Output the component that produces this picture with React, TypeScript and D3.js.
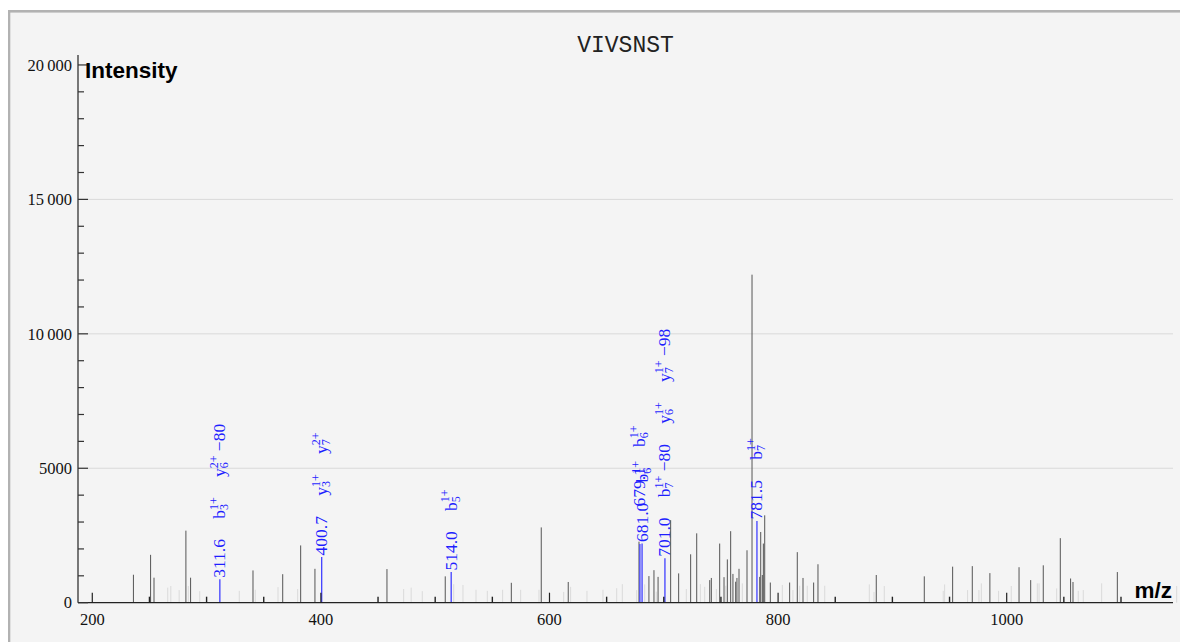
import React, { useEffect, useRef } from "react";
import * as d3 from "d3";

const W = 1172;
const H = 634;
const TITLE = "VIVSNST";
const X_LABEL = "m/z";
const Y_LABEL = "Intensity";
const X_DOMAIN: [number, number] = [187.5, 1145.5];
const Y_MAX = 20370;

const xMajorTicks = [200, 400, 600, 800, 1000];
const xMinorTicks = d3.range(250, 1101, 50).filter((v) => v % 200 !== 0);
const yMajorTicks = [0, 5000, 10000, 15000, 20000];
const yMinorTicks = d3.range(1000, 20000, 1000).filter((v) => v % 5000 !== 0);
const yGridTicks = [5000, 10000, 15000];

// unannotated peaks (grey)
const peakMz = [
  236, 251, 254, 281.9, 286, 340.6, 366.6, 382.3, 394.8, 457.8, 508.8, 566.6, 592.8, 616.4,
  678.3, 687, 691.4, 695, 706, 713, 723.5, 728.8, 740.2, 741.6, 748.9, 752.7, 755.6, 758.5,
  760.5, 762.9, 764, 765.8, 772.8, 777.2, 783.9, 784.8, 786.2, 787.1, 788.3, 793.2, 810.1,
  816.8, 821.8, 831.1, 834.9, 885.9, 927.9, 952.7, 969.9, 985.3, 1010.8, 1021, 1032, 1046.9,
  1055.9, 1058, 1096.8,
];
const peakInt = [
  1040, 1780, 930, 2680, 930, 1200, 1060, 2130, 1260, 1250, 980, 740, 2800, 770,
  2270, 990, 1210, 960, 3070, 1090, 1800, 2580, 840, 920, 2200, 950, 1610, 2660,
  1070, 780, 920, 1260, 1950, 12200, 960, 2630, 1030, 2200, 3250, 750, 750,
  1880, 920, 750, 1430, 1030, 980, 1340, 1360, 1100, 1320, 840, 1390, 2400,
  900, 770, 1140,
];

// faint peaks (light grey)
const faintMz = [
  266, 268.7, 276, 284, 294, 328.6, 342.6, 362.5, 379.7, 472.4, 479, 488.7, 516.2, 524.3,
  535.7, 545.6, 559, 574.8, 590.8, 612.4, 618.5, 632.8, 646.8, 658.8, 663.7, 676.3, 683.3,
  693.4, 719.7, 732, 735.8, 746, 754.2, 768.7, 803.7, 813, 818.9, 825.5, 840.8, 879.8, 883.9,
  892.9, 944.5, 945.7, 965.8, 975.7, 977.8, 992.9, 1004, 1026.8, 1028.3, 1043.7, 1062.6,
  1067, 1083.1, 1148.7,
];
const faintInt = [
  560, 620, 470, 620, 430, 440, 480, 580, 510, 510, 560, 430, 690, 660,
  480, 440, 480, 480, 480, 400, 590, 440, 480, 540, 690, 470, 680,
  410, 510, 690, 590, 510, 630, 720, 660, 470, 630, 630, 630, 680, 400,
  620, 440, 680, 470, 470, 720, 440, 620, 720, 720, 530, 440,
  470, 720, 620,
];

// annotated peaks (blue)
const annMz = [311.6, 400.7, 514.0, 679.1, 681.0, 701.0, 781.5];
const annInt = [870, 1700, 1140, 2180, 2200, 1650, 3040];
// ion labels: [ion, subscript, superscript, suffix]
const annIons: string[][][] = [
  [["b", "3", "1+", ""], ["y", "6", "2+", " \u221280"]],
  [["y", "3", "1+", ""], ["y", "7", "2+", ""]],
  [["b", "5", "1+", ""]],
  [["b", "6", "1+", ""]],
  [["b", "6", "1+", ""]],
  [["b", "7", "1+", " \u221280"], ["y", "6", "1+", ""], ["y", "7", "1+", " \u221298"]],
  [["b", "7", "1+", ""]],
];

const fmtY = (v: number) =>
  v >= 10000 ? d3.format(",")(v).replace(/,/g, "\u2009") : String(v);

const x = d3.scaleLinear().domain(X_DOMAIN).range([70, 1165]);
const y = d3.scaleLinear().domain([0, Y_MAX]).range([594.7, 47]);

const SERIF = "'Liberation Serif', 'Times New Roman', serif";
const SANS = "'Liberation Sans', Arial, sans-serif";
const LABEL_FS = 17.5;
const SMALL_FS = 12;
const BLUE = "#1f1fff";

export default function App() {
  const gRef = useRef<SVGGElement>(null);

  useEffect(() => {
    const g = d3.select(gRef.current);
    g.selectAll("*").remove();
    const order = d3.range(annMz.length).sort((a, b) => annMz[b] - annMz[a]);
    const placed: { px: number; numEnd: number }[] = [];
    order.forEach((i) => {
      const px = x(annMz[i]);
      let cur = y(annInt[i]) - 1.5;
      const near = placed.find((p) => Math.abs(p.px - px) < 8);
      if (near) cur = Math.min(cur, near.numEnd + 4);
      const items: string[][] = [[annMz[i].toFixed(1), "", "", ""], ...annIons[i]];
      let numEnd = cur;
      items.forEach((it, k) => {
        const t = g
          .append("text")
          .attr("transform", `translate(${px + 5.5},${cur}) rotate(-90)`)
          .attr("font-family", SERIF)
          .attr("font-size", LABEL_FS)
          .attr("fill", BLUE);
        t.append("tspan").text(it[0]);
        if (it[1]) {
          const sub = t.append("tspan").attr("font-size", SMALL_FS).attr("dy", 3).text(it[1]);
          const subW = (sub.node() as SVGTSpanElement).getComputedTextLength();
          t.append("tspan")
            .attr("font-size", SMALL_FS)
            .attr("dx", -subW)
            .attr("dy", -10.5)
            .text(it[2]);
          if (it[3]) t.append("tspan").attr("dy", 7.5).text(it[3]);
        }
        const bb = (t.node() as SVGTextElement).getBBox();
        cur -= bb.x + bb.width;
        if (k === 0) numEnd = cur;
        cur -= 20;
      });
      placed.push({ px, numEnd });
    });
  }, []);

  const x0 = x.range()[0];
  const x1 = x.range()[1];
  const yBase = y(0);

  return (
    <svg
      width={W}
      height={H}
      style={{ display: "block", position: "fixed", left: 8, top: 8, overflow: "hidden" }}
    >
      <rect x={1} y={3.3} width={W + 100} height={H + 100} fill="#f4f4f4" stroke="#b2b2b2" strokeWidth={2.6} />
      <text x={(x0 + x1) / 2} y={44} textAnchor="middle" fontFamily="'Liberation Mono', 'Courier New', monospace" fontSize={23} fill="#222">
        {TITLE}
      </text>
      {yGridTicks.map((v) => (
        <line key={"g" + v} x1={x0} x2={x1} y1={y(v)} y2={y(v)} stroke="#d9d9d9" strokeWidth={1} />
      ))}
      {/* faint peaks */}
      {faintMz.map((m, i) => (
        <line key={"f" + i} x1={x(m)} x2={x(m)} y1={yBase} y2={y(faintInt[i])} stroke="#dadada" strokeWidth={1} />
      ))}
      {/* grey peaks */}
      {peakMz.map((m, i) => (
        <line key={"p" + i} x1={x(m)} x2={x(m)} y1={yBase} y2={y(peakInt[i])} stroke="#555" strokeWidth={1} />
      ))}
      {/* annotated peaks */}
      {annMz.map((m, i) => (
        <line key={"a" + i} x1={x(m)} x2={x(m)} y1={yBase} y2={y(annInt[i])} stroke="#4040ff" strokeWidth={1.3} />
      ))}
      {/* axes */}
      <line x1={x0} x2={x0} y1={yBase} y2={y(Y_MAX)} stroke="#222" strokeWidth={1.2} />
      <line x1={x0} x2={x1} y1={yBase} y2={yBase} stroke="#222" strokeWidth={1.2} />
      {yMajorTicks.map((v) => (
        <g key={"ym" + v}>
          <line x1={x0} x2={x0 + 10} y1={y(v)} y2={y(v)} stroke="#333" strokeWidth={1.2} />
          <text x={x0 - 6} y={y(v)} dy="0.35em" textAnchor="end" fontFamily={SERIF} fontSize={16.5} fill="#111">
            {fmtY(v)}
          </text>
        </g>
      ))}
      {yMinorTicks.map((v) => (
        <line key={"yn" + v} x1={x0} x2={x0 + 6} y1={y(v)} y2={y(v)} stroke="#333" strokeWidth={1.2} />
      ))}
      {xMajorTicks.map((v) => (
        <g key={"xm" + v}>
          <line x1={x(v)} x2={x(v)} y1={yBase} y2={yBase - 10} stroke="#222" strokeWidth={1.2} />
          <text x={x(v)} y={617} textAnchor="middle" fontFamily={SERIF} fontSize={16.5} fill="#111">
            {v}
          </text>
        </g>
      ))}
      {xMinorTicks.map((v) => (
        <line key={"xn" + v} x1={x(v)} x2={x(v)} y1={yBase} y2={yBase - 6} stroke="#222" strokeWidth={1.4} />
      ))}
      <g ref={gRef} />
      <text x={77} y={70.3} fontFamily={SANS} fontWeight="bold" fontSize={22.5} fill="#000">
        {Y_LABEL}
      </text>
      <text x={1164} y={590.3} textAnchor="end" fontFamily={SANS} fontWeight="bold" fontSize={22.5} fill="#000">
        {X_LABEL}
      </text>
    </svg>
  );
}
